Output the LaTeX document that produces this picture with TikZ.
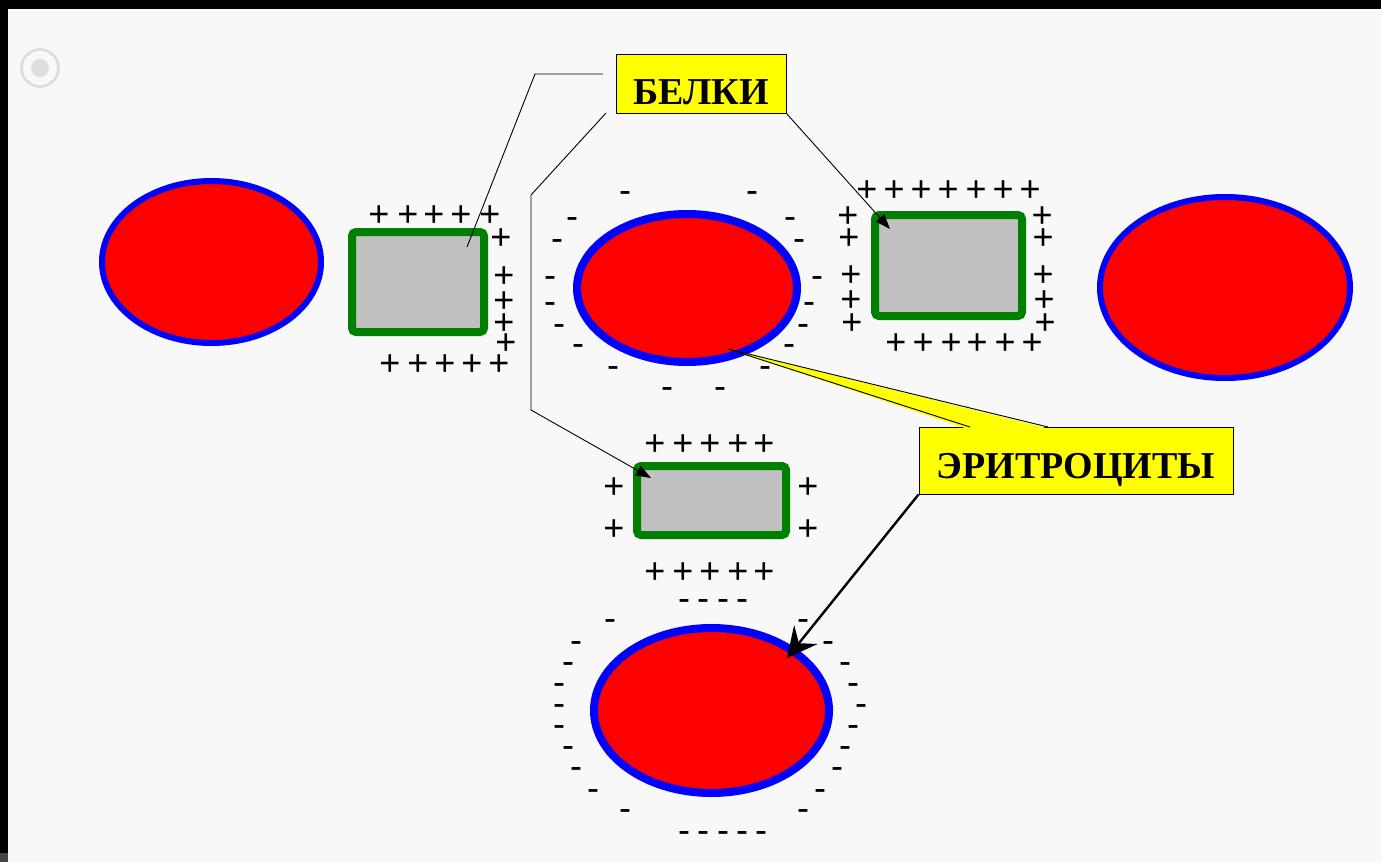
\documentclass[tikz,border=0pt]{standalone}
\usepackage{fontspec}
\setmainfont{Liberation Serif}
\newfontfamily\signfont{Liberation Sans}
\usetikzlibrary{arrows.meta,shapes.geometric}
\definecolor{bg}{HTML}{F8F8F8}
\definecolor{ered}{HTML}{FF0000}
\definecolor{eblue}{HTML}{0000FF}
\definecolor{pgreen}{HTML}{008000}
\definecolor{pgray}{HTML}{C0C0C0}
\definecolor{lyellow}{HTML}{FFFF00}
\definecolor{icongray}{HTML}{DDDDDD}
\definecolor{cornergray}{HTML}{444444}
\begin{document}
\begin{tikzpicture}[x=1pt,y=-1pt,
  cell/.style={ellipse, draw=eblue, fill=ered, inner sep=0pt},
  protein/.style={rectangle, draw=pgreen, fill=pgray, line width=8pt, rounded corners=4pt, inner sep=0pt},
  labelbox/.style={rectangle, draw=black, fill=lyellow, line width=1pt, inner sep=0pt,
     font=\fontsize{38}{40}\selectfont\bfseries},
  signtext/.style={anchor=base, inner sep=0pt, outer sep=0pt, font=\signfont\fontsize{36}{38}\selectfont},
  plussign/.style={signtext, text height=21.4pt, text depth=-4pt},
  minussign/.style={signtext, text height=11pt, text depth=-7.6pt},
  thinline/.style={draw=black, line width=0.9pt, line join=round},
  smalltip/.style={-{Triangle[length=15pt,width=11pt]}},
  bigarrow/.style={draw=black, line width=2.4pt, -{Stealth[length=30pt,width=30pt,inset=11pt]}}
]
% background and frame
\useasboundingbox (0,0) rectangle (1381,862);
\fill[bg] (0,0) rectangle (1381,862);
\fill[black] (0,0) rectangle (1381,9);
\fill[black] (0,0) rectangle (8,853);
\fill[cornergray] (0,853) rectangle (8,862);
% icon
\draw[icongray, line width=2.7pt] (40,68) circle[radius=18.5];
\fill[icongray] (40,68) circle[radius=9];

% erythrocytes
\node[cell, line width=6pt, minimum width=219pt, minimum height=162pt] (e1) at (211.5,262) {};
\node[cell, line width=8pt, minimum width=220pt, minimum height=148pt] (e2) at (687,288) {};
\node[cell, line width=6pt, minimum width=250pt, minimum height=181pt] (e3) at (1225,287.5) {};
\node[cell, line width=8pt, minimum width=235pt, minimum height=165pt] (e4) at (711.5,710.5) {};

% proteins
\node[protein, minimum width=132pt, minimum height=100pt] (r1) at (418,282) {};
\node[protein, minimum width=147pt, minimum height=101pt] (r2) at (948.5,265.5) {};
\node[protein, minimum width=149pt, minimum height=69pt] (r3) at (711.5,500.5) {};

% plus signs
\foreach \x/\y [count=\k] in {379/214,408/214,434/214,461/214,490/214,
  501/237,504/275,504/300,504/322,506/342,
  390/363,418/363,445/363,472/363,499/363,
  867/189,894/189,921/189,948/189,976/189,1003/189,1030/189,
  848/215,849/237,851/274,851/299,852/322,
  1042/215,1043/237,1043/274,1044/299,1045/322,
  896/342,923/342,951/342,977/342,1005/342,1032/342,
  655/443,683/443,710/443,738/443,764/443,
  614/486,614/528,808/486,808/528,
  655/571,683/571,710/571,738/571,764/571}
  \node[plussign] (plus\k) at (\x,\y+12.7) {+};

% minus signs
\foreach \x/\y [count=\k] in {625/193,752/193,572/219,790/219,557/241,799/241,
  550/278,817/278,550/304,809/304,559/326,803/326,578/346,789/346,
  613/368,765/368,667/389,720/389,
  684/601,703/601,723/601,742/601,
  610/621,803/621,576/643,828/643,568/664,845/664,559/685,853/685,
  559/706,861/706,559/727,853/727,568/748,845/748,576/769,837/769,
  593/791,820/791,625/811,803/811,
  684/833,703/833,723/833,742/833,761/833}
  \node[minussign] (minus\k) at (\x,\y+9.3) {-};

% label boxes
\node[labelbox, minimum width=170pt, minimum height=59pt, text height=41pt, text depth=0pt] (belki) at (701,83.5) {БЕЛКИ};
\node[labelbox, minimum width=314pt, minimum height=67pt, text height=36pt, text depth=0pt] (eri) at (1076,460.5) {ЭРИТРОЦИТЫ};

% connectors from БЕЛКИ
\coordinate (l1s) at (603,74);
\coordinate (l1k) at (535,74);
\coordinate (l1e) at (467,247);
\draw[thinline] (l1s) -- (l1k) -- (l1e);

\coordinate (l2s) at (606,113);
\coordinate (l2a) at (531,195);
\coordinate (l2b) at (531,410);
\coordinate (l2e) at (651,478);
\draw[thinline, smalltip] (l2s) -- (l2a) -- (l2b) -- (l2e);

\coordinate (l3e) at (890,229);
\draw[thinline, smalltip] (belki.south east) -- (l3e);

% callout tail of ЭРИТРОЦИТЫ
\coordinate (ct) at (728,349);
\coordinate (cl) at (970,427);
\coordinate (cr) at (1048,427);
\fill[lyellow] (968,429) -- (ct) -- (1050,429) -- cycle;
\draw[thinline] (cl) -- (ct) -- (cr);

% arrow from ЭРИТРОЦИТЫ
\coordinate (et) at (787,658);
\draw[bigarrow] (eri.south west) -- (et);
\end{tikzpicture}
\end{document}
